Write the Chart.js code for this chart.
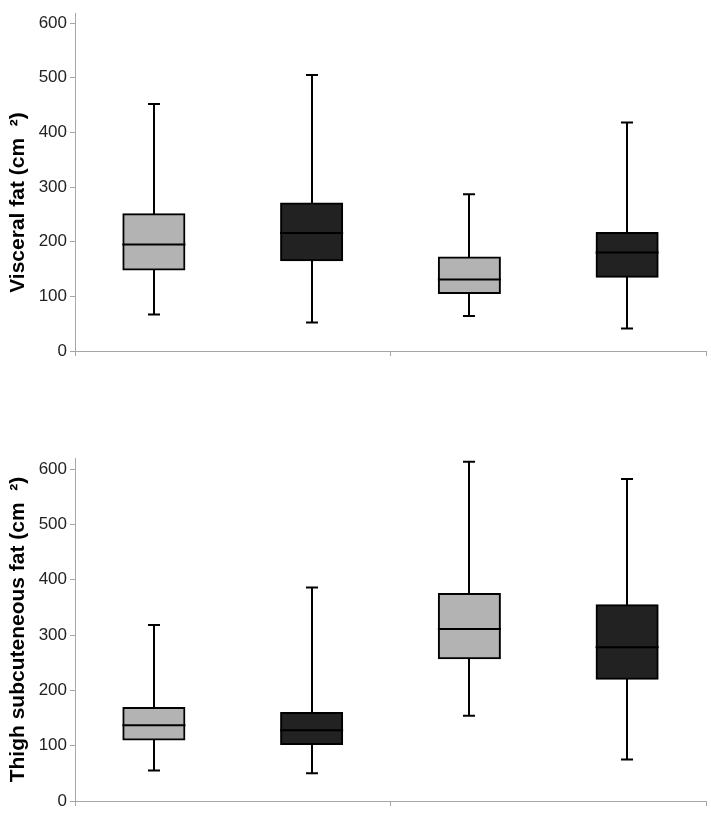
<!DOCTYPE html>
<html>
<head>
<meta charset="utf-8">
<script src="https://cdn.jsdelivr.net/npm/chart.js@4"></script>
<style>
  html, body { margin: 0; padding: 0; background: #fff; }
  body { width: 711px; height: 815px; position: relative; overflow: hidden; }
  .panel { position: absolute; left: 0; width: 711px; }
  #p1 { top: 0; height: 380px; }
  #p2 { top: 440px; height: 375px; }
</style>
</head>
<body>
<div class="panel" id="p1"><canvas id="c1"></canvas></div>
<div class="panel" id="p2"><canvas id="c2"></canvas></div>
<script>
// ---- Data ----
const categories = ['Group 1', 'Group 2'];
const seriesNames = ['Series A', 'Series B'];
const yTicks = [0, 100, 200, 300, 400, 500, 600];
// each entry: [min, q1, median, q3, max] for one category
const visceralGray  = [[67, 149, 195, 250, 452], [64, 106, 131, 171, 287]];
const visceralBlack = [[52, 166, 216, 270, 505], [41, 136, 180, 216, 418]];
const thighGray     = [[55, 111, 137, 168, 318], [154, 258, 311, 374, 613]];
const thighBlack    = [[50, 103, 128, 159, 386], [75, 221, 278, 354, 582]];

const GRAY = '#b3b3b3';
const DARK = '#222222';
const AXIS = '#a6a6a6';

const boxPlugin = {
  id: 'boxParts',
  beforeDatasetsDraw(chart) {
    const ctx = chart.ctx, y = chart.scales.y;
    ctx.save();
    ctx.strokeStyle = '#000';
    ctx.lineWidth = 2;
    chart.data.datasets.forEach((ds, i) => {
      const meta = chart.getDatasetMeta(i);
      meta.data.forEach((bar, j) => {
        const s = ds.stats[j];
        const x = Math.round(bar.x);
        const yMin = y.getPixelForValue(s[0]);
        const yMax = y.getPixelForValue(s[4]);
        ctx.beginPath();
        ctx.moveTo(x, yMin); ctx.lineTo(x, yMax);
        ctx.moveTo(x - 6, yMin); ctx.lineTo(x + 6, yMin);
        ctx.moveTo(x - 6, yMax); ctx.lineTo(x + 6, yMax);
        ctx.stroke();
      });
    });
    ctx.restore();
  },
  afterDatasetsDraw(chart) {
    const ctx = chart.ctx, y = chart.scales.y;
    ctx.save();
    ctx.strokeStyle = '#000';
    ctx.lineWidth = 2;
    chart.data.datasets.forEach((ds, i) => {
      const meta = chart.getDatasetMeta(i);
      meta.data.forEach((bar, j) => {
        const s = ds.stats[j];
        const ym = y.getPixelForValue(s[2]);
        ctx.beginPath();
        ctx.moveTo(bar.x - bar.width / 2 - 1, ym);
        ctx.lineTo(bar.x + bar.width / 2 + 1, ym);
        ctx.stroke();
      });
    });
    ctx.restore();
  }
};

function makeChart(id, title, grayStats, blackStats, yMax, padTop, xHeight) {
  const ds = (name, stats, color) => ({
    label: name,
    data: stats.map(s => [s[1], s[3]]),
    stats: stats,
    backgroundColor: color,
    borderColor: '#000',
    borderWidth: 2,
    borderSkipped: false,
    inflateAmount: 1,
    barPercentage: 0.387,
    categoryPercentage: 1.0
  });
  return new Chart(document.getElementById(id), {
    type: 'bar',
    data: {
      labels: categories,
      datasets: [ds(seriesNames[0], grayStats, GRAY), ds(seriesNames[1], blackStats, DARK)]
    },
    plugins: [boxPlugin],
    options: {
      responsive: true,
      maintainAspectRatio: false,
      animation: false,
      layout: { padding: { top: padTop, right: 5, left: 0, bottom: 0 } },
      plugins: { legend: { display: false }, tooltip: { enabled: false } },
      scales: {
        x: {
          grid: { display: true, drawOnChartArea: false, drawTicks: true, tickLength: 5, offset: true, color: AXIS },
          border: { display: true, color: AXIS, width: 1 },
          ticks: { display: false },
          afterFit(scale) { scale.height = xHeight; }
        },
        y: {
          min: 0,
          max: yMax,
          afterBuildTicks(scale) { scale.ticks = yTicks.map(v => ({ value: v })); },
          grid: { display: true, drawOnChartArea: false, drawTicks: true, tickLength: 5, color: AXIS },
          border: { display: true, color: AXIS, width: 1 },
          ticks: {
            padding: 3,
            color: '#222',
            font: { family: 'Liberation Sans, Arial, sans-serif', size: 17 }
          },
          title: {
            display: true,
            text: title,
            color: '#000',
            padding: { top: 6, bottom: 0 },
            font: { family: 'Liberation Sans, Arial, sans-serif', size: 21, weight: 'bold' }
          },
          afterFit(scale) { scale.width = 75; }
        }
      }
    }
  });
}

makeChart('c1', 'Visceral fat (cm  \u00B2)       ', visceralGray, visceralBlack, 618, 10, 29);
makeChart('c2', 'Thigh subcuteneous fat (cm  \u00B2)', thighGray, thighBlack, 620, 18, 14);
</script>
</body>
</html>
